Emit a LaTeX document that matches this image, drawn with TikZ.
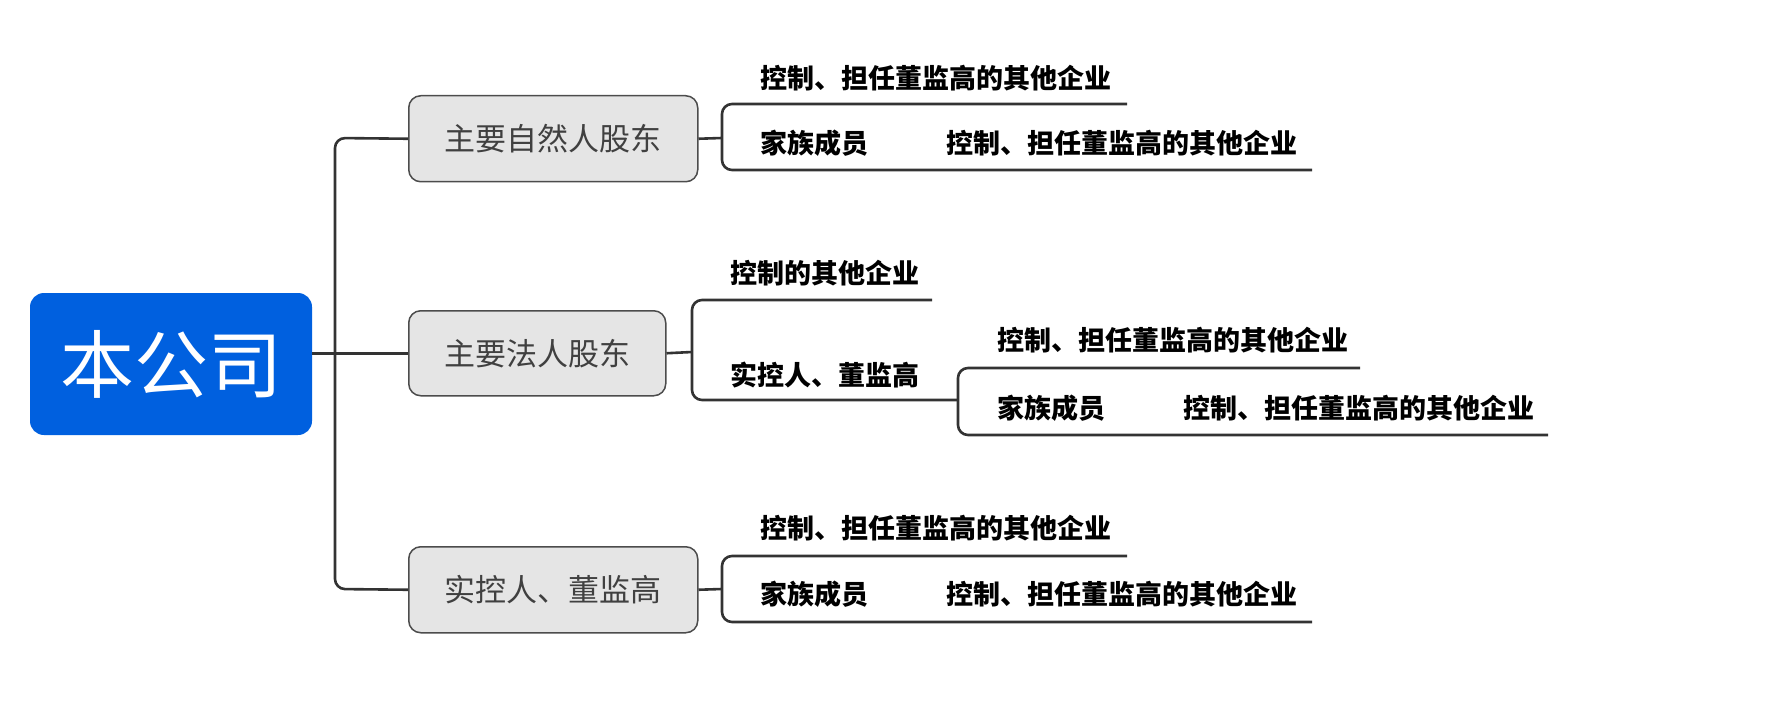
\documentclass[tikz,border=0pt]{standalone}
\usepackage{fontspec}
\setmainfont{Noto Sans CJK SC}
\begin{document}
\begin{tikzpicture}[x=1pt,y=-1pt,
  ln/.style={draw=black!80,line width=2.6pt,rounded corners=10pt},
  br/.style={draw=black!70,fill=black!10,line width=1.5pt,rounded corners=12pt,anchor=north west,inner sep=0pt},
  bt/.style={font=\fontsize{31}{33}\selectfont,text=black!75},
  lf/.style={font=\bfseries\fontsize{27}{29}\selectfont,anchor=west,inner sep=0pt}]
\useasboundingbox (0,0) rectangle (1768,714);
\node[fill={rgb,255:red,0;green,96;blue,223},rounded corners=14pt,minimum width=282pt,minimum height=142pt,text=white,font=\fontsize{74}{78}\selectfont,inner sep=0pt] (root) at (171,364) {本公司};
\node[br,minimum width=289pt,minimum height=86pt] (b1) at (408,95) {};
\node[bt] at (b1.center) {主要自然人股东};
\node[br,minimum width=257pt,minimum height=85pt] (b2) at (408,310) {};
\node[bt] at (b2.center) {主要法人股东};
\node[br,minimum width=289pt,minimum height=86pt] (b3) at (408,546) {};
\node[bt] at (b3.center) {实控人、董监高};
% trunk
\draw[ln] (root.east |- b2.west) -- (b2.west);
\draw[ln] (b1.west) -- (335,138) -- (335,589) -- (b3.west);
% branch 1
\draw[ln] (b1.east) -- (722,138);
\draw[ln] (1127,104) -- (722,104) -- (722,170) -- (1312,170);
\node[lf] (l11) at (760,78) {控制、担任董监高的其他企业};
\node[lf] (l12) at (760,143) {家族成员};
\node[lf] (l13) at (946,143) {控制、担任董监高的其他企业};
% branch 2
\draw[ln] (b2.east) -- (692,352);
\draw[ln] (932,300) -- (692,300) -- (692,400) -- (958,400);
\node[lf] (l21) at (730,273) {控制的其他企业};
\node[lf] (l22) at (730,375) {实控人、董监高};
\draw[ln] (1360,368) -- (958,368) -- (958,435) -- (1548,435);
\node[lf] (l23) at (997,340) {控制、担任董监高的其他企业};
\node[lf] (l24) at (997,408) {家族成员};
\node[lf] (l25) at (1183,408) {控制、担任董监高的其他企业};
% branch 3
\draw[ln] (b3.east) -- (722,589);
\draw[ln] (1127,556) -- (722,556) -- (722,622) -- (1312,622);
\node[lf] (l31) at (760,528) {控制、担任董监高的其他企业};
\node[lf] (l32) at (760,594) {家族成员};
\node[lf] (l33) at (946,594) {控制、担任董监高的其他企业};
\end{tikzpicture}
\end{document}
